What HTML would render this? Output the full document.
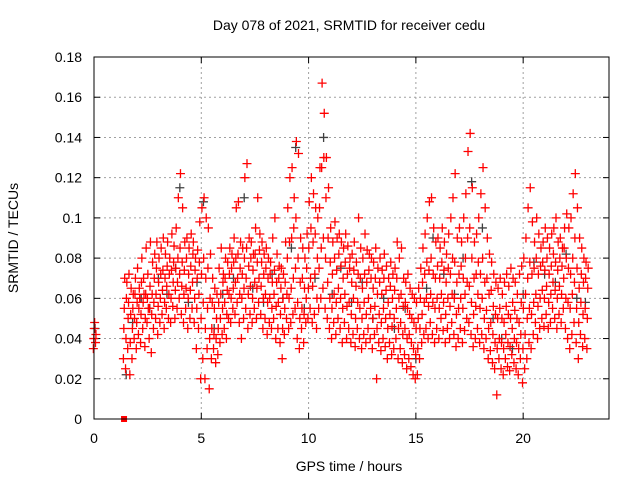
<!DOCTYPE html>
<html><head><meta charset="utf-8"><style>
html,body{margin:0;padding:0;background:#fff;}
svg{display:block;font-family:"Liberation Sans",sans-serif;}
</style></head><body>
<svg id="chart" width="640" height="480" viewBox="0 0 640 480" xmlns="http://www.w3.org/2000/svg">
<rect width="640" height="480" fill="#fff"/>
<text x="349" y="30" font-size="14" text-anchor="middle" fill="#000">Day 078 of 2021, SRMTID for receiver cedu</text>
<text x="349" y="471" font-size="14" text-anchor="middle" fill="#000">GPS time / hours</text>
<text x="18" y="238" font-size="14" text-anchor="middle" fill="#000" transform="rotate(-90 18 238)">SRMTID / TECUs</text>
<g id="grid"></g>
<g id="ticks"></g>
<g id="black-pts"></g>
<g id="red-pts"></g>
<rect x="94" y="57" width="515" height="362" fill="none" stroke="#000" stroke-width="1"/>
</svg>
<script>
const xTicks = [0, 5, 10, 15, 20];
const yTicks = [0, 0.02, 0.04, 0.06, 0.08, 0.1, 0.12, 0.14, 0.16, 0.18];
const yTickLabels = ["0", "0.02", "0.04", "0.06", "0.08", "0.1", "0.12", "0.14", "0.16", "0.18"];
// red series: [hour, values in 1e-3 TECU...]
const redRows = [
[0.0,35,40,45,48],[0.1,38,42],
[1.4,30,45,55,70],[1.5,25,40,60,68],[1.6,35,50,58,72],[1.7,22,38,52,65],[1.8,30,45,55,62],[1.9,40,50,62,70],
[2.0,35,48,58,75],[2.1,42,55,65,60],[2.2,38,52,68,80],[2.3,45,58,70,62],[2.4,36,50,62,85],[2.5,48,60,72,55],[2.6,40,55,66,88],[2.7,33,52,62,78],[2.8,45,58,70,82],[2.9,50,62,75,88],
[3.0,42,56,68,80],[3.1,48,60,72,85],[3.2,52,64,74,90],[3.3,45,58,70,82],[3.4,55,66,76,88],[3.5,50,62,72,80],[3.6,48,60,74,92],[3.7,56,68,78,86],[3.8,50,64,75,95],[3.9,55,68,80,110],
[4.0,60,72,85,122],[4.1,52,66,78,105],[4.2,48,62,74,88],[4.3,55,65,80,90],[4.4,45,60,72,85],[4.5,50,64,76,92],[4.6,55,68,82,88],[4.7,48,60,74,80],[4.8,35,55,70,84],[4.9,45,62,78,98],
[5.0,20,50,72,105],[5.1,30,58,80,110],[5.2,20,45,70,100],[5.3,35,55,75,95],[5.4,15,40,60,82],[5.5,30,45,58,70],[5.6,35,42,55,65],[5.7,28,40,50,62],[5.8,32,45,58,75],[5.9,38,50,62,85],
[6.0,42,55,68,72],[6.1,45,58,70,80],[6.2,40,52,64,78],[6.3,50,62,72,85],[6.4,48,60,75,82],[6.5,55,65,78,90],[6.6,52,68,80,105],[6.7,58,70,82,108],[6.8,48,62,75,88],[6.9,40,60,72,85],
[7.0,50,65,80,120],[7.1,55,70,85,127],[7.2,45,62,76,90],[7.3,52,66,80,88],[7.4,48,60,74,82],[7.5,55,68,82,95],[7.6,50,65,78,110],[7.7,58,70,84,92],[7.8,52,66,78,88],[7.9,45,60,72,82],
[8.0,50,62,75,85],[8.1,42,58,70,80],[8.2,48,60,72,78],[8.3,45,55,68,90],[8.4,50,62,74,100],[8.5,40,56,68,82],[8.6,45,58,70,76],[8.7,38,52,65,75],[8.8,30,45,60,72],[8.9,42,55,68,88],
[9.0,50,62,80,105],[9.1,45,60,88,120],[9.2,48,65,90,125],[9.3,52,70,95,110],[9.4,55,75,100,138],[9.5,40,58,80,132],[9.6,35,50,68,90],[9.7,45,55,70,85],[9.8,38,52,65,80],[9.9,48,60,75,92],
[10.0,50,65,85,108],[10.1,55,70,95,120],[10.2,48,66,88,112],[10.3,52,72,92,105],[10.4,45,60,80,100],[10.5,55,75,105,125],[10.6,60,85,125,167],[10.7,65,90,130,152],[10.8,55,80,110,130],[10.9,50,68,90,115],
[11.0,45,60,78,95],[11.1,40,55,72,88],[11.2,48,62,80,98],[11.3,42,58,74,90],[11.4,50,65,82,92],[11.5,45,60,76,88],[11.6,38,55,70,85],[11.7,48,62,78,92],[11.8,40,56,72,86],[11.9,45,58,75,80],
[12.0,38,52,68,82],[12.1,42,60,74,88],[12.2,36,50,66,78],[12.3,45,58,72,100],[12.4,40,55,70,85],[12.5,35,50,65,80],[12.6,42,58,72,92],[12.7,38,52,68,84],[12.8,45,60,74,82],[12.9,40,55,70,80],
[13.0,35,50,65,78],[13.1,42,56,70,85],[13.2,20,45,62,75],[13.3,38,52,68,80],[13.4,34,48,62,74],[13.5,40,55,70,82],[13.6,36,50,64,76],[13.7,30,45,58,70],[13.8,38,52,66,78],[13.9,32,46,60,72],
[14.0,35,50,64,75],[14.1,40,55,70,88],[14.2,30,45,60,80],[14.3,35,48,62,85],[14.4,28,42,56,70],[14.5,32,45,58,68],[14.6,25,40,55,72],[14.7,30,42,52,65],[14.8,26,38,50,62],[14.9,22,35,48,60],
[15.0,20,32,45,58],[15.1,22,35,50,65],[15.2,30,45,60,75],[15.3,38,52,68,85],[15.4,42,58,72,92],[15.5,45,60,78,100],[15.6,40,56,74,108],[15.7,48,62,80,110],[15.8,42,58,72,95],[15.9,38,55,70,88],
[16.0,45,60,76,90],[16.1,40,55,70,85],[16.2,50,62,78,95],[16.3,44,58,74,88],[16.4,38,52,68,82],[16.5,45,60,75,92],[16.6,40,56,72,100],[16.7,48,62,80,110],[16.8,42,60,78,122],[16.9,36,52,68,90],
[17.0,40,55,72,95],[17.1,45,60,76,88],[17.2,38,55,70,100],[17.3,44,62,80,112],[17.4,50,68,90,133],[17.5,48,66,95,142],[17.6,42,58,80,115],[17.7,36,52,70,88],[17.8,40,56,72,92],[17.9,45,62,78,100],
[18.0,38,55,72,112],[18.1,42,60,80,125],[18.2,35,50,68,105],[18.3,40,54,70,90],[18.4,30,45,62,82],[18.5,34,48,64,78],[18.6,28,42,56,72],[18.7,25,38,52,68],[18.8,12,35,50,65],[18.9,30,40,55,70],
[19.0,25,38,50,62],[19.1,22,35,48,68],[19.2,30,42,56,72],[19.3,26,38,52,66],[19.4,24,36,50,75],[19.5,32,45,58,70],[19.6,28,40,54,68],[19.7,25,38,50,62],[19.8,22,35,48,72],[19.9,30,42,58,76],
[20.0,18,35,55,80],[20.1,25,42,62,90],[20.2,30,50,70,105],[20.3,38,55,78,115],[20.4,35,52,72,98],[20.5,42,58,75,88],[20.6,48,62,80,100],[20.7,40,56,72,92],[20.8,45,60,76,85],[20.9,50,64,78,88],
[21.0,46,60,74,95],[21.1,52,66,80,90],[21.2,45,58,72,85],[21.3,48,62,76,92],[21.4,55,68,82,95],[21.5,50,64,78,100],[21.6,45,60,74,88],[21.7,52,66,80,90],[21.8,48,62,76,85],[21.9,55,70,85,95],
[22.0,45,60,80,102],[22.1,40,58,75,95],[22.2,35,55,72,100],[22.3,42,62,80,112],[22.4,48,68,90,122],[22.5,38,55,75,105],[22.6,30,48,65,90],[22.7,42,58,72,85],[22.8,36,52,68,80],[22.9,40,55,70,78],
[23.0,35,50,65,75]
];
const blackHours = [0.05,1.5,1.8,2.2,2.6,3.0,3.4,3.8,4.0,4.4,4.8,5.1,5.6,6.0,6.5,7.0,7.4,7.9,8.3,8.8,9.2,9.4,9.8,10.3,10.7,11.1,11.5,12.0,12.5,13.0,13.5,14.0,14.5,15.0,15.5,15.8,16.3,16.8,17.2,17.6,18.1,18.6,19.0,19.5,20.0,20.5,21.0,21.5,22.0,22.5,22.9];
const blackVals = [45,22,48,60,55,70,62,75,115,58,68,108,45,62,70,110,65,58,72,60,85,135,55,70,140,62,75,58,68,50,60,45,55,30,65,90,72,62,80,118,95,50,40,35,62,78,72,68,82,60,58];
const zeroHours = [1.4];

const X0=94, X1=609, Y0=419, Y1=57, XMAX=24, YMAX=0.18;
const xs = h => X0 + (X1-X0)*h/XMAX;
const ys = v => Y0 - (Y0-Y1)*v/YMAX;
const NS="http://www.w3.org/2000/svg";
function mk(tag, attrs, parent){const e=document.createElementNS(NS,tag);for(const k in attrs)e.setAttribute(k,attrs[k]);parent.appendChild(e);return e;}
const grid=document.getElementById('grid'), ticks=document.getElementById('ticks');
yTicks.forEach((v,i)=>{
  const y=ys(v);
  if(i>0&&i<yTicks.length-1){const g=mk('line',{x1:X0,x2:X1,y1:y,y2:y,stroke:'#a0a0a0','stroke-dasharray':'2,3'},grid);
  
  }
  mk('line',{x1:X0,x2:X0+6,y1:y,y2:y,stroke:'#000'},ticks);
  mk('line',{x1:X1-6,x2:X1,y1:y,y2:y,stroke:'#000'},ticks);
  const t=mk('text',{x:X0-12,y:y+5,'font-size':14,'text-anchor':'end',fill:'#000'},ticks);
  t.textContent=yTickLabels[i];
  
  
});
xTicks.forEach(h=>{
  const x=xs(h);
  if(h>0){const g=mk('line',{x1:x,x2:x,y1:Y1,y2:Y0,stroke:'#a0a0a0','stroke-dasharray':'2,3'},grid);
  
  }
  mk('line',{x1:x,x2:x,y1:Y0,y2:Y0-6,stroke:'#000'},ticks);
  mk('line',{x1:x,x2:x,y1:Y1,y2:Y1+6,stroke:'#000'},ticks);
  const t=mk('text',{x:x,y:Y0+24,'font-size':14,'text-anchor':'middle',fill:'#000'},ticks);
  t.textContent=String(h);
  
  
});
function plus(h,v,color,parent){
  const x=xs(h), y=ys(v);
  return mk('path',{d:`M${x-4.5} ${y}H${x+4.5}M${x} ${y-4.5}V${y+4.5}`,stroke:color,'stroke-width':1.3,fill:'none'},parent);
}
const bg=document.getElementById('black-pts');
blackHours.forEach((h,i)=>{
  const p=plus(h,blackVals[i]/1000,'#404040',bg);
  
  
});
const rg=document.getElementById('red-pts');
redRows.forEach(r=>{
  for(let j=1;j<r.length;j++){
    const off=(j-2.5)*0.02;
    const p=plus(r[0]+off,r[j]/1000,'#ff0000',rg);
    
    
  }
});
zeroHours.forEach(h=>{
  const s=mk('rect',{x:xs(h)-3,y:ys(0)-3,width:6,height:6,fill:'#ff0000'},rg);
  
  
});
</script>
</body></html>
